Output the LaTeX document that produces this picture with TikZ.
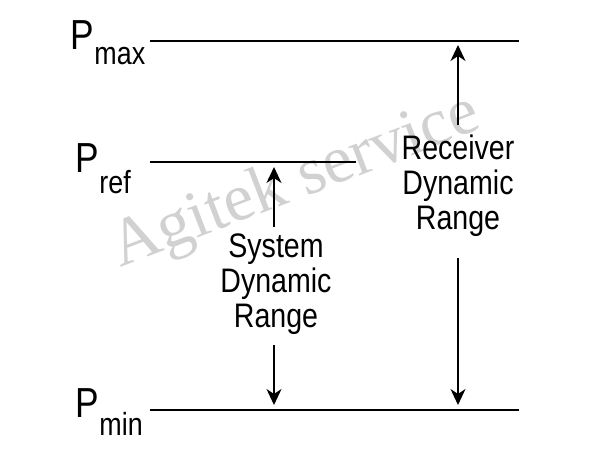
\documentclass[tikz,border=0pt]{standalone}
\usepackage{fontspec}
\setmainfont[FakeStretch=0.84]{Liberation Sans}
\newfontfamily\markfont{Liberation Serif}
\usetikzlibrary{arrows.meta}

\begin{document}
\begin{tikzpicture}[x=1pt, y=-1pt, >={Stealth[length=16pt,width=15pt,inset=5pt]}, line width=1.9pt,
	plabel/.style={anchor=base west, inner sep=0pt, font=\fontsize{42}{42}\selectfont},
	rangetext/.style={align=center, inner sep=0pt, font=\fontsize{34}{35}\selectfont},
	watermark/.style={rotate=21, inner sep=0pt, text=gray!36, font=\markfont\fontsize{67}{67}\selectfont}]
	\useasboundingbox (0,0) rectangle (600,450);

	% Watermark
	\node [watermark] 	(wm) 	at (296,183) 	{Agitek service};

	% Nodes {pmax, pref, pmin, sys, rcv}
	\node [plabel] 		(pmax) 	at (70,49) 	{P\raisebox{-15pt}{\fontsize{32}{32}\selectfont max}};
	\node [plabel] 		(pref) 	at (75,172) 	{P\raisebox{-21pt}{\fontsize{32}{32}\selectfont ref}};
	\node [plabel] 		(pmin) 	at (75,417) 	{P\raisebox{-18pt}{\fontsize{32}{32}\selectfont min}};
	\node [rangetext] 	(sys) 	at (276,284) 	{System\\Dynamic\\Range};
	\node [rangetext] 	(rcv) 	at (458,186) 	{Receiver\\Dynamic\\Range};

	% Coordinates
	\coordinate (maxL) at (150,41);  \coordinate (maxR) at (519,41);
	\coordinate (refL) at (150,162); \coordinate (refR) at (356,162);
	\coordinate (minL) at (150,410); \coordinate (minR) at (519,410);
	\coordinate (sysA) at (274,227); \coordinate (sysTop) at (274,167);
	\coordinate (sysB) at (274,345); \coordinate (sysBot) at (274,405);
	\coordinate (rcvA) at (458,125); \coordinate (rcvTop) at (458,45);
	\coordinate (rcvB) at (458,258); \coordinate (rcvBot) at (458,405);

	% Paths
	\draw (maxL) -- (maxR);
	\draw (refL) -- (refR);
	\draw (minL) -- (minR);
	\draw [->] (sysA) -- (sysTop);
	\draw [->] (sysB) -- (sysBot);
	\draw [->] (rcvA) -- (rcvTop);
	\draw [->] (rcvB) -- (rcvBot);

\end{tikzpicture}
\end{document}
